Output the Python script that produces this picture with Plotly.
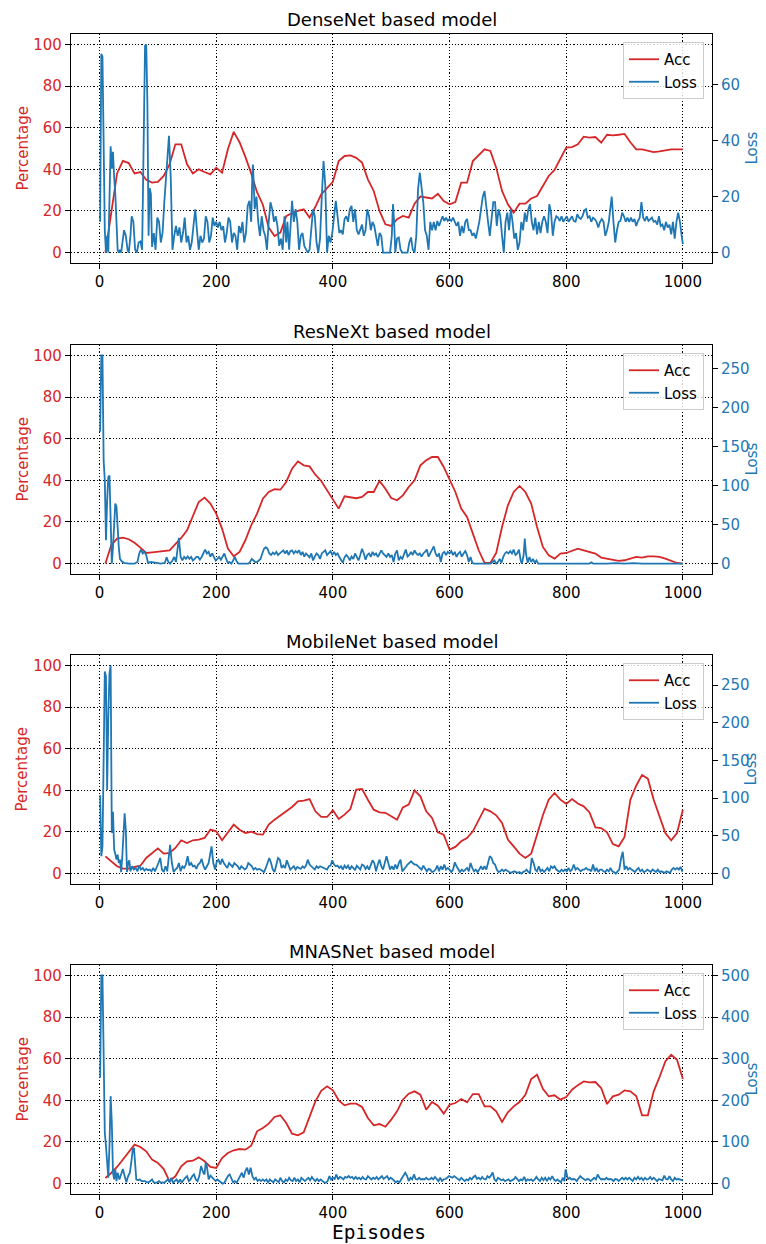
import plotly.graph_objects as go

W, H = 766, 1244
RED = '#d62728'
BLUE = '#1f77b4'
FONT = 'DejaVu Sans'

titles = ["DenseNet based model", "ResNeXt based model",
          "MobileNet based model", "MNASNet based model"]
x_ticks = [0, 200, 400, 600, 800, 1000]
acc_ticks = [0, 20, 40, 60, 80, 100]
loss_dticks = [20, 50, 50, 100]

# ---------------- accuracy (every 10 episodes) ----------------
acc_episodes = list(range(10, 1001, 10))

acc_densenet = [0, 19, 38, 44, 43, 38, 38.7, 35, 33.6, 34,
                36.8, 42.4, 52, 52, 42.4, 38, 40, 38.7, 37.6, 40.8,
                38.4, 49.6, 58, 53, 46, 38, 29, 23, 12, 8,
                9.6, 17.5, 19, 20, 20.8, 16.8, 22, 28, 31, 34,
                44, 46.4, 46.7, 45.5, 43.2, 35.2, 29.6, 20, 13.6, 12.8,
                16, 17.6, 16.8, 23.5, 26.9, 26.5, 26, 28.3, 24.8, 23.2,
                24.3, 33.6, 33.6, 44, 46.7, 49.6, 48.8, 40.8, 29.6, 23.2,
                19.2, 23.5, 23.5, 26, 27.2, 32, 36.8, 39.7, 44.8, 50.4,
                50.7, 52, 55.7, 55.2, 55.5, 52.8, 56.6, 56.3, 56.6, 57,
                53, 49.6, 49.6, 48.8, 48.3, 48.6, 49.1, 49.6, 49.6, 49.6]

acc_resnext = [0, 8.8, 12, 12.5, 11.7, 10, 7.7, 5.1, 5.4, 5.8,
               6.1, 6.4, 9.3, 12.3, 16, 22.4, 29.6, 31.7, 28.8, 24,
               16.8, 7.2, 3.5, 5.6, 11.2, 18.4, 24, 31.2, 34.4, 35.7,
               35.5, 39.2, 45.6, 49.1, 47.2, 46.7, 42.7, 39.7, 35.2, 30.4,
               26.4, 32.3, 32, 31.4, 32, 34.4, 34.4, 39.7, 36, 31.5,
               30.4, 32.8, 36.8, 40, 47.2, 49.6, 51.2, 51.2, 46.4, 40.8,
               34.4, 26.4, 22.4, 14.4, 6.4, 0.3, 0.3, 5.1, 17.6, 28,
               34.4, 37.3, 34.4, 28.8, 17.6, 8, 4, 2.4, 4.8, 5.1,
               6.1, 7.2, 6.4, 5.6, 4.8, 2.9, 2.4, 1.9, 1.3, 1.6,
               2.4, 3.2, 2.9, 3.5, 3.5, 3.2, 2.4, 1.3, 0.3, 0]

acc_mobilenet = [8.3, 5.9, 3.5, 2.4, 2.4, 3.2, 3.8, 7.5, 9.9, 12.1,
                 9.6, 9.9, 12.3, 16, 14.7, 16, 16.3, 17.1, 21.1, 20.3,
                 16, 19.5, 23.5, 21.1, 19.5, 20.1, 19, 18.7, 23.5, 25.9,
                 27.8, 29.9, 32, 34.7, 35, 35.8, 29.9, 27.2, 27.2, 30.4,
                 26.2, 28.3, 31, 40.3, 40.6, 35.5, 30.7, 29.4, 29.2, 27.5,
                 25.9, 31.8, 33.1, 40, 37.1, 29.9, 26.7, 19.8, 18.7, 11.5,
                 12.8, 15.5, 17.1, 20.3, 25.9, 31.2, 29.9, 28, 24.3, 16.3,
                 13.1, 9.6, 7.5, 9.6, 18.7, 28, 35.5, 38.7, 35.5, 33.5,
                 35.8, 33.7, 32.3, 29.4, 22.2, 21.9, 19.8, 14.2, 13.1, 17.6,
                 35.5, 42.2, 47.4, 45.6, 35.5, 27.5, 19.5, 16, 19.5, 30.7]

acc_mnasnet = [2.7, 5.1, 8, 11.5, 14.7, 18.7, 17.6, 15.5, 11.5, 9.9,
               7, 1.1, 3.5, 8.3, 10.7, 11, 12.6, 10.7, 8, 7.5,
               12.3, 14.7, 16, 16.6, 16.3, 18.2, 25.1, 26.7, 28.8, 32,
               32.8, 29.1, 24, 23.2, 24.6, 32.3, 39.5, 44.6, 46.7, 44.8,
               40, 37.6, 38.4, 38.4, 36.8, 31.5, 28, 28.6, 27.3, 30.7,
               34.7, 40.3, 43.2, 44.3, 42.7, 35.5, 39.2, 37.4, 33.6, 37.9,
               38.7, 40.6, 39, 43, 43, 37.1, 37.1, 34.7, 29.6, 34.2,
               37.1, 39.2, 42.7, 50.2, 52.3, 45.5, 41.9, 42.4, 40.3, 41.6,
               45.1, 47.3, 49.1, 48.6, 48.8, 45.9, 38.2, 41.9, 42.7, 44.8,
               44.3, 42.1, 32.8, 32.8, 44.3, 51.2, 58.7, 61.9, 59.5, 50.2]

# ---------------- loss (sampled episodes) ----------------
loss_densenet_ep = ([1, 3, 5, 7, 9, 11, 13, 15, 17, 19, 21, 23, 25, 27, 29, 31, 33, 35, 37,
                     40, 42, 45, 48, 50, 53, 55, 58, 61, 64, 67, 70, 73, 76, 78, 80, 82, 84,
                     86, 88, 90, 93, 96, 99, 102, 105, 108, 111, 114, 117, 119, 122]
                    + list(range(125, 261, 3)) + [262] + list(range(263, 321, 3))
                    + [322, 325, 327] + list(range(330, 502, 3)) + [503, 505, 507]
                    + list(range(510, 661, 3)) + list(range(663, 877, 3)) + [878]
                    + list(range(881, 999, 3)) + [1000])
loss_densenet = ([11, 71, 70, 42, 8, 0, 6, 0, 18, 38, 30, 36, 27, 21, 11, 1, 0, 1, 0,
                  6, 8, 6, 1, 0, 6, 13, 11, 1, 0, 3.6, 4, 1, 54, 74, 74.4, 54, 6,
                  23, 21, 2, 7, 1, 12.5, 11, 3.6, 7, 18, 26, 34.5, 41.7, 27]
                 + [1, 6, 9.5, 6, 9, 3.6, 7, 12.5, 3.6, 6,
                    1, 3.6, 11, 15.5, 8, 1, 6, 3.6, 5, 13,
                    11, 3.6, 6, 12.5, 9.5, 11, 9, 11, 8, 9.5,
                    3.6, 7, 12.5, 11, 3.6, 7, 6, 1, 9.5, 7,
                    11, 3.6, 7, 16.7, 18.5, 11]
                 + [28.6]
                 + [31.5, 15.5, 20, 11, 6, 13, 8, 6, 1, 11,
                    18, 15.5, 11, 13, 9.5, 2.4, 5, 1, 13, 3.6]
                 + [11, 1, 8]
                 + [18.5, 11, 15.5, 11, 1, 6, 7, 2.4, 1, 0,
                    1, 8, 15.5, 13, 3.6, 0, 5, 20, 32.7, 24,
                    0, 6, 3.6, 7, 13, 18.5, 13, 7, 8, 6.5,
                    12, 13, 11, 15.5, 16.7, 11, 15.5, 8, 6.5, 8,
                    10, 6, 8, 15.5, 13, 8, 11, 9.5, 6, 2.4,
                    7, 6, 0, 0, 0, 0, 0, 6]
                 + [17.3, 11, 0]
                 + [5, 5.4, 1, 0, 0, 0, 0, 3.6, 5.4, 1,
                    0, 6, 22.6, 28.6, 22.6, 18, 8, 6, 1, 11,
                    8, 11, 8, 11.3, 9.5, 11, 13, 11.3, 12.5, 11.3,
                    12, 11.3, 12.5, 11, 9.5, 11, 6, 9.5, 7, 11,
                    12, 8, 8, 6, 7, 5, 8, 11, 15.5, 20,
                    22]
                 + [15.5, 11, 6, 11, 18, 18, 9.5, 15.5, 13, 6,
                    0, 11, 14.3, 8, 15.5, 11, 5, 7, 1, 3.6,
                    11, 8, 14.3, 11, 15.5, 17.3, 11, 8, 12.5, 6.5,
                    11, 7, 11, 13, 11, 7, 17.3, 14.3, 6, 11,
                    13, 12.5, 11.3, 13, 11, 12, 13, 11, 12, 13,
                    11.3, 11, 13.7, 12.5, 12, 13, 15, 15.5, 12.5, 13,
                    11, 12.5, 12, 11, 9, 11, 12, 11, 6, 8,
                    11, 15.5]
                 + [20]
                 + [11, 3.6, 8, 11, 11.3, 14.3, 13, 11, 12.5, 11,
                    12.5, 11, 12, 9.5, 11.3, 12.5, 18, 12.5, 11.3, 13,
                    11.3, 12, 12.5, 11, 11.3, 10, 13, 9.5, 10, 8,
                    11, 9, 10, 6.5, 11, 5, 11, 14.3, 11, 6]
                 + [3])

loss_resnext_ep = ([1, 3, 5, 7, 9, 11, 13, 15, 17, 19, 21, 23, 25, 27, 29, 31, 33, 35,
                    38, 42, 50, 60, 65, 68, 71, 74, 77, 80, 83, 88, 95, 105, 112, 115,
                    118, 121, 125, 128, 131, 134, 136, 139]
                   + list(range(142, 242, 3)) + list(range(245, 256, 5))
                   + list(range(258, 493, 3)) + list(range(495, 643, 3))
                   + [650, 660, 670, 674, 677, 680, 683, 686, 689]
                   + list(range(692, 723, 3))
                   + [724, 727, 729, 731, 734, 737, 740, 743, 746, 749, 752]
                   + [760, 780, 800, 820, 840, 843, 846, 870, 885, 900, 915, 930, 960, 1000])
loss_resnext = ([169, 267, 267, 132, 107, 30, 81, 111, 113, 64, 0, 21, 47, 77, 73, 43, 21, 6,
                 3, 1, 0, 0, 2, 13, 18, 13, 15, 11, 1, 2, 1, 0, 1, 8,
                 2, 0, 4, 8.5, 2, 26, 33, 8.5]
                + [4, 8.5, 6, 9, 6, 8.5, 4, 6, 8.5, 8.5,
                   5, 8.5, 13, 18, 13, 15, 9, 13, 8.5, 4,
                   6, 8.5, 5, 9, 13, 6, 1, 2, 0, 4,
                   8.5, 3, 0, 0]
                + [0, 0, 0]
                + [2, 6, 4, 2, 2, 4, 6, 13, 19, 21,
                   19, 13, 11, 14, 12, 15, 11, 13, 15, 17,
                   13, 17, 11, 16, 17, 13, 16, 14, 17, 11,
                   15, 9, 13, 11, 8, 13, 4, 9, 13, 11,
                   6, 13, 15, 17, 11, 13, 16, 11, 15, 11,
                   13, 8.5, 4, 1, 8, 11, 8.5, 4, 9, 6,
                   13, 8.5, 4, 11, 19, 13, 5, 11, 13, 8.5,
                   15, 11, 13, 8.5, 13, 17, 13, 11, 8.5]
                + [13, 8.5, 11, 2, 13, 17, 4, 8.5, 6, 13,
                   18, 9, 11, 15, 11, 17, 13, 11, 13, 9,
                   13, 15, 18, 9, 13, 17, 22, 13, 9, 13,
                   2, 13, 15, 11, 15, 13, 16, 11, 15, 8.5,
                   13, 15, 9, 13, 16, 11, 2, 8.5, 1, 0]
                + [0, 0, 0, 2, 4, 0, 2, 6, 1]
                + [8.5, 13, 15, 13, 16, 13, 18, 11, 13, 18, 4]
                + [0, 11, 32, 13, 1, 8.5, 2, 6, 1, 4, 0]
                + [0, 0, 0, 0, 0, 1.7, 0, 0, 0.6, 0, 0.5, 0, 0, 0])

loss_mobilenet_ep = ([1, 3, 5, 7, 9, 11, 13, 15, 17, 19, 21, 23, 25, 27, 29, 31, 33, 35,
                      37, 39, 41, 43, 45, 47, 49, 51, 53]
                     + list(range(56, 120, 3)) + [121] + list(range(124, 191, 3)) + [192]
                     + list(range(195, 493, 3)) + list(range(495, 1000, 3)) + [1000])
loss_mobilenet = ([104, 23, 36, 129, 268, 261, 111, 208, 265, 276, 54, 82, 32, 26, 18.5, 25,
                   14, 18.5, 2, 23, 49, 80, 58, 2, 14, 17.6, 3]
                  + [9.7, 5.3, 7.5, 3, 10.6, 5.3, 7.5, 4, 6.2, 4.4,
                     5.3, 3, 7.5, 3, 7.5, 14, 20.7, 5.3, 2, 9.7,
                     3, 23]
                  + [38]
                  + [14, 2, 5.3, 7.5, 14, 3, 9.7, 7.5, 12, 23,
                     10.6, 14, 9.7, 10.6, 6.2, 12, 14, 19.4, 10.6, 5.3,
                     9.7, 14, 27.3]
                  + [36]
                  + [14, 5.3, 16, 18.5, 12, 19.4, 14, 10.6, 7.5, 14,
                     12, 8.8, 14, 12, 9.7, 5.3, 9.7, 7.5, 5.3, 7.5,
                     14, 12, 9.7, 5.3, 7.5, 5.3, 6.2, 5.3, 3, 2,
                     7.5, 14, 20.7, 14, 5.3, 2, 12, 20.7, 18.5, 7.5,
                     10.6, 7.5, 17.6, 12, 5.3, 7.5, 9.7, 5.3, 8.8, 7.5,
                     6.2, 9.7, 7.5, 10.6, 18.5, 12, 9.7, 8.8, 5.3, 9.7,
                     7.5, 9.7, 8.8, 7.5, 6.2, 5.3, 9.7, 10.6, 17.6, 12,
                     9.7, 10.6, 7.5, 9.7, 5.3, 10.6, 7.5, 10.6, 5.3, 9.7,
                     7.5, 4.4, 10.6, 7.5, 5.3, 12, 10.6, 6.2, 9.7, 5.3,
                     10.6, 17.6, 14, 3, 12, 18.5, 9.7, 5.3, 14, 23]
                  + [14, 5.3, 9.7, 5.3, 12, 6.2, 14, 18.5, 3, 5.3,
                     8.8, 12, 14, 16.3, 14, 12, 12, 9.7, 7.5, 5.3,
                     10.6, 7.5, 3, 6.2, 5.3, 2, 3, 5.3, 10.6, 3,
                     9.7, 5.3, 12, 5.3, 7.5, 5.3, 2, 5.3, 15, 9.7,
                     5.3, 2, 5.3, 3, 5.3, 7.5, 3, 14, 7.5, 3,
                     5.3, 2, 5.3, 9.7, 5.3, 9.7, 5.3, 14, 23, 20.7,
                     14, 12, 5.3, 2, 3, 5.3, 3, 5.3, 3, 2,
                     1, 2, 3, 2, 1, 2, 0, 2, 3, 5.3,
                     2, 1, 20.7, 14, 5.3, 3, 9.7, 3, 5.3, 2,
                     5.3, 7.5, 3, 9.7, 7.5, 9.7, 5.3, 3, 2, 5.3,
                     3, 5.3, 3, 7.5, 3, 5.3, 12, 5.3, 7.5, 5.3,
                     3, 5.3, 5.3, 7.5, 5.3, 5.3, 3, 12, 3, 7.5,
                     2, 5.3, 5.3, 3, 2, 5.3, 3, 7.5, 3, 2,
                     0, 3, 5.3, 20, 29, 5.3, 9.7, 5.3, 7.5, 5.3,
                     3, 2, 5.3, 7.5, 3, 5.3, 2, 3, 5.3, 3,
                     2, 5.3, 3, 2, 5.3, 2, 3, 2, 1, 3,
                     2, 1, 5.3, 7.5, 5.3, 7.5, 5.3, 8.8, 3]
                  + [3])

loss_mnasnet_ep = ([1, 3, 5, 7, 9, 11, 13, 15, 17, 19, 21, 23, 25, 27, 29, 31,
                    34, 37, 40, 43, 46, 49, 52, 55, 57, 59, 61, 63]
                   + list(range(66, 172, 3)) + [174, 176, 178, 180, 182, 184]
                   + list(range(187, 491, 3)) + list(range(493, 521, 3)) + [522, 524]
                   + list(range(527, 798, 3)) + [799, 801] + list(range(803, 1001, 3)) + [1000])
loss_mnasnet = ([254, 500, 500, 298, 122, 90, 42, 14, 90, 210, 146, 26, 10, 34, 6, 26,
                 10, 26, 35, 18, 3, 18, 26, 58, 82, 86, 42, 10]
                + [8, 10, 6, 6, 6, 3, 3, 6, 10, 3,
                   2, 3, 6, 2, 3, 2, 6, 10, 3, 14,
                   2, 6, 10, 2, 10, 3, 10, 14, 18, 6,
                   10, 18, 22, 10, 6, 18]
                + [42, 30, 26, 22, 50, 42]
                + [10, 19, 14, 10, 6, 10, 6, 2, 0, 2,
                   10, 18, 22, 10, 3, 6, 2, 10, 18, 26,
                   14, 30, 38, 22, 38, 18, 10, 14, 6, 10,
                   6, 10, 6, 10, 3, 10, 6, 3, 10, 6,
                   3, 14, 6, 3, 10, 6, 14, 8, 6, 14,
                   6, 10, 3, 14, 10, 6, 10, 14, 8, 16,
                   10, 6, 11, 6, 10, 6, 3, 2, 6, 18,
                   10, 14, 11, 22, 10, 16, 14, 10, 16, 14,
                   18, 14, 16, 11, 16, 11, 14, 10, 16, 11,
                   10, 18, 14, 10, 14, 11, 16, 10, 14, 18,
                   11, 14]
                + [18, 10, 14, 11, 8, 3, 6, 3, 10, 18]
                + [22, 26]
                + [19, 6, 14, 10, 22, 11, 10, 14, 10, 11,
                   10, 14, 10, 10, 14, 10, 16, 10, 6, 14,
                   6, 10, 11, 14, 18, 16, 14, 18, 14, 10,
                   8, 14, 10, 6, 10, 8, 14, 10, 16, 19,
                   11, 14, 10, 16, 11, 10, 18, 14, 19, 27,
                   10, 6, 14, 10, 8, 10, 6, 8, 10, 6,
                   8, 10, 16, 10, 6, 10, 8, 16, 6, 10,
                   8, 10, 6, 10, 16, 10, 6, 14, 8, 14,
                   6, 14, 10, 18, 10, 6, 10, 6, 3, 14,
                   6]
                + [34, 22]
                + [10, 14, 10, 11, 10, 6, 11, 18, 14, 10,
                   8, 11, 10, 6, 10, 14, 10, 22, 14, 10,
                   11, 10, 14, 10, 11, 10, 6, 11, 10, 6,
                   10, 14, 10, 14, 10, 14, 10, 6, 14, 10,
                   16, 10, 14, 8, 14, 10, 11, 16, 10, 14,
                   10, 6, 11, 10, 8, 19, 11, 10, 18, 10,
                   6, 14, 10, 11, 10, 10]
                + [8])

acc_series = [acc_densenet, acc_resnext, acc_mobilenet, acc_mnasnet]
loss_eps = [loss_densenet_ep, loss_resnext_ep, loss_mobilenet_ep, loss_mnasnet_ep]
loss_series = [loss_densenet, loss_resnext, loss_mobilenet, loss_mnasnet]
for a in acc_series:
    assert len(a) == len(acc_episodes), len(a)
for e, l in zip(loss_eps, loss_series):
    assert len(e) == len(l), (len(e), len(l))

# ---------------- layout geometry (pixels) ----------------
FL, FR = 71, 712
tops = [34, 345, 655, 965]
PH = 229


def py(p):
    return 1 - p / H


fig = go.Figure()
layout = dict(
    width=W, height=H, margin=dict(l=0, r=0, t=0, b=0),
    paper_bgcolor='white', plot_bgcolor='white',
    font=dict(family=FONT, size=15, color='black'),
    showlegend=True,
)
annotations = []
xdom = [FL / W, FR / W]
xc = (xdom[0] + xdom[1]) / 2

for i in range(4):
    xname = 'x' if i == 0 else f'x{i + 1}'
    yl = 'y' if i == 0 else f'y{2 * i + 1}'
    yr = f'y{2 * i + 2}'
    leg = 'legend' if i == 0 else f'legend{i + 1}'
    top = tops[i]
    ydom = [py(top + PH), py(top)]

    fig.add_trace(go.Scatter(x=acc_episodes, y=acc_series[i], mode='lines', name='Acc',
                             line=dict(color=RED, width=1.8), xaxis=xname, yaxis=yl,
                             legend=leg))
    fig.add_trace(go.Scatter(x=loss_eps[i], y=loss_series[i], mode='lines', name='Loss',
                             line=dict(color=BLUE, width=1.8), xaxis=xname, yaxis=yr,
                             legend=leg))

    lmax = max(loss_series[i])
    common_tick = dict(ticks='outside', ticklen=5, tickwidth=1.2, tickcolor='black')
    layout['xaxis' if i == 0 else f'xaxis{i + 1}'] = dict(
        domain=xdom, anchor=yl, range=[-48.95, 1049.95], tickvals=x_ticks,
        showgrid=True, gridcolor='black', gridwidth=1, griddash='1.2px,2px',
        zeroline=False, showline=True, linecolor='black', linewidth=1.2, mirror=True,
        tickfont=dict(family=FONT, size=15, color='black'), **common_tick)
    layout['yaxis' if i == 0 else f'yaxis{2 * i + 1}'] = dict(
        domain=ydom, anchor=xname, range=[-5, 105], tickvals=acc_ticks,
        showgrid=True, gridcolor='black', gridwidth=1, griddash='1.2px,2px',
        zeroline=False, showline=True, linecolor='black', linewidth=1.2, mirror=True,
        tickfont=dict(family=FONT, size=15, color=RED), **common_tick)
    layout[f'yaxis{2 * i + 2}'] = dict(
        domain=ydom, anchor=xname, overlaying=yl, side='right',
        range=[-0.05 * lmax, 1.05 * lmax], tick0=0, dtick=loss_dticks[i],
        showgrid=False, zeroline=False, showline=False,
        tickfont=dict(family=FONT, size=15, color=BLUE), **common_tick)
    layout[leg] = dict(
        x=704 / W, y=py(top + 8), xanchor='right', yanchor='top',
        bgcolor='rgba(255,255,255,0.8)', bordercolor='#cccccc', borderwidth=1,
        font=dict(family=FONT, size=15, color='black'), itemwidth=30, tracegroupgap=0)

    annotations.append(dict(text=titles[i], x=xc, y=py(top - 14), xref='paper', yref='paper',
                            xanchor='center', yanchor='middle', showarrow=False,
                            font=dict(family=FONT, size=18, color='black')))
    yc = py(top + PH / 2)
    annotations.append(dict(text='Percentage', x=22 / W, y=yc, xref='paper', yref='paper',
                            xanchor='center', yanchor='middle', showarrow=False, textangle=-90,
                            font=dict(family=FONT, size=15, color=RED)))
    annotations.append(dict(text='Loss', x=751 / W, y=yc, xref='paper', yref='paper',
                            xanchor='center', yanchor='middle', showarrow=False, textangle=-90,
                            font=dict(family=FONT, size=15, color=BLUE)))

annotations.append(dict(text='Episodes', x=379 / W, y=py(1232), xref='paper', yref='paper',
                        xanchor='center', yanchor='middle', showarrow=False,
                        font=dict(family='DejaVu Sans Mono', size=19.5, color='black')))
layout['annotations'] = annotations
fig.update_layout(**layout)
fig.write_html("out.html",
               config={'displayModeBar': False},
               post_script="document.body.style.margin='0px';"
                           "document.body.style.overflow='hidden';")
